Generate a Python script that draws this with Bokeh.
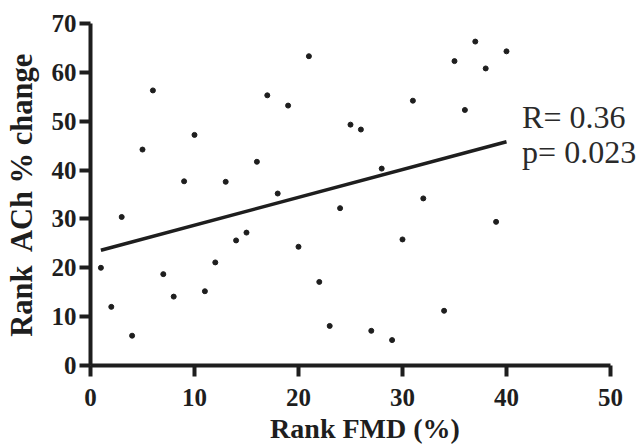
from bokeh.plotting import figure
from bokeh.models import Range1d, FixedTicker, Label, ColumnDataSource
from bokeh.embed import file_html
from bokeh.resources import INLINE

# Data
rank_fmd = [1, 2, 3, 4, 5, 6, 7, 8, 9, 10, 11, 12, 13, 14, 15, 16, 17, 18, 19, 20,
            21, 22, 23, 24, 25, 26, 27, 28, 29, 30, 31, 32, 34, 35, 36, 37, 38, 39, 40]
rank_ach = [20, 12, 30.4, 6.1, 44.2, 56.3, 18.7, 14.1, 37.7, 47.2, 15.2, 21.1, 37.6, 25.6, 27.2,
            41.7, 55.3, 35.2, 53.2, 24.3, 63.3, 17.1, 8.1, 32.2, 49.3, 48.3, 7.1, 40.3, 5.2, 25.8,
            54.2, 34.2, 11.2, 62.3, 52.3, 66.3, 60.8, 29.4, 64.3]
fit_x = [1, 40]
fit_y = [23.6, 45.8]
x_ticks = [0, 10, 20, 30, 40, 50]
y_ticks = [0, 10, 20, 30, 40, 50, 60, 70]
stats_lines = ["R= 0.36", "p= 0.023"]
stats_y = [50.9, 43.7]

FONT = "Liberation Serif"
INK = "#1e1e1e"

p = figure(width=639, height=446, output_backend="svg", toolbar_location=None,
           x_range=Range1d(0, 52.79), y_range=Range1d(0, 70),
           min_border_left=90, min_border_right=0, min_border_top=23, min_border_bottom=80)
p.outline_line_color = None
p.xgrid.visible = False
p.ygrid.visible = False
p.background_fill_color = "white"
p.border_fill_color = "white"

src = ColumnDataSource(dict(x=rank_fmd, y=rank_ach))
p.scatter("x", "y", source=src, size=5, color=INK)
p.line(fit_x, fit_y, line_width=3.5, color=INK)

for ax, ticks in ((p.xaxis[0], x_ticks), (p.yaxis[0], y_ticks)):
    ax.ticker = FixedTicker(ticks=ticks)
    ax.minor_tick_line_color = None
    ax.axis_line_width = 4
    ax.axis_line_color = INK
    ax.major_tick_line_width = 4
    ax.major_tick_line_color = INK
    ax.major_tick_in = 0
    ax.major_tick_out = 11
    ax.major_label_text_font = FONT
    ax.major_label_text_font_style = "bold"
    ax.major_label_text_font_size = "25px"
    ax.major_label_text_color = INK
    ax.axis_label_text_font = FONT
    ax.axis_label_text_font_style = "bold"
    ax.axis_label_text_color = INK

p.xaxis[0].bounds = (0, 50)
p.xaxis[0].axis_label = "Rank FMD (%)"
p.xaxis[0].axis_label_text_font_size = "28px"
p.xaxis[0].major_label_standoff = 12
p.xaxis[0].axis_label_standoff = 4
p.yaxis[0].axis_label = "Rank\u00a0 ACh % change"
p.yaxis[0].axis_label_text_font_size = "30.5px"
p.yaxis[0].major_label_standoff = 3
p.yaxis[0].axis_label_standoff = 10

for txt, yv in zip(stats_lines, stats_y):
    p.add_layout(Label(x=41.5, y=yv, text=txt, text_font=FONT, text_font_size="32px",
                       text_color="#2a2a2a", text_baseline="alphabetic", text_align="left"))

open("out.html", "w").write(file_html(p, INLINE))
